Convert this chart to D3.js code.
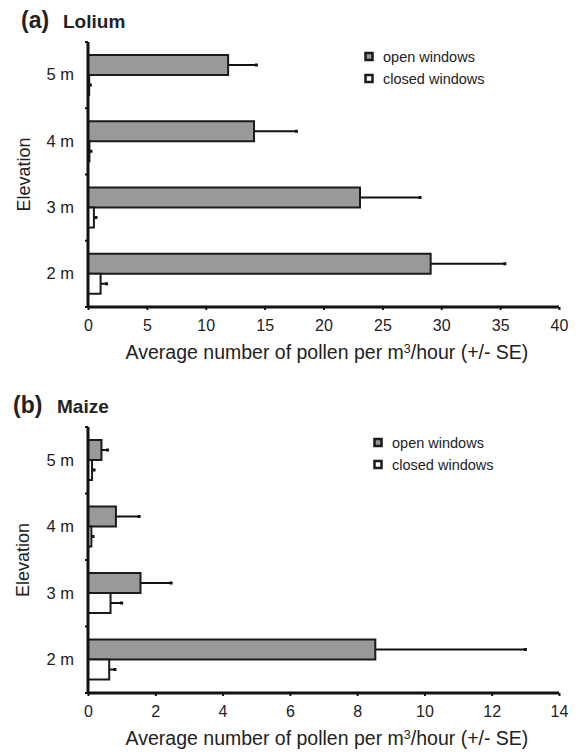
<!DOCTYPE html>
<html>
<head>
<meta charset="utf-8">
<script src="https://cdn.jsdelivr.net/npm/d3@7"></script>
<style>
  body { margin: 0; background: #fff; }
  text { font-family: "Liberation Sans", Arial, sans-serif; fill: #222; }
</style>
</head>
<body>
<div id="chart-container"></div>
<script>
// Data
const elevations = ["5 m", "4 m", "3 m", "2 m"];
const seriesNames = ["open windows", "closed windows"];

const loliumOpen = [11.9, 14.1, 23.1, 29.1];
const loliumOpenSE = [2.4, 3.6, 5.1, 6.3];
const loliumClosed = [0.1, 0.12, 0.5, 1.07];
const loliumClosedSE = [0.1, 0.13, 0.18, 0.5];
const loliumTicks = [0, 5, 10, 15, 20, 25, 30, 35, 40];

const maizeOpen = [0.4, 0.83, 1.56, 8.54];
const maizeOpenSE = [0.18, 0.69, 0.91, 4.46];
const maizeClosed = [0.12, 0.1, 0.67, 0.63];
const maizeClosedSE = [0.06, 0.05, 0.33, 0.17];
const maizeTicks = [0, 2, 4, 6, 8, 10, 12, 14];

const width = 583, height = 752;

const svg = d3.select("#chart-container")
  .append("svg")
  .attr("width", width)
  .attr("height", height);

function drawPanel(opt) {
  const g = svg.append("g");

  const x = d3.scaleLinear().domain([0, opt.max]).range([88, 559]);
  const y = d3.scaleBand().domain(elevations).range([opt.top, opt.bottom]);
  const sub = d3.scaleBand().domain(seriesNames).range([13, 53]);

  // panel title
  g.append("text").attr("x", opt.letterX).attr("y", opt.titleY)
    .style("font-size", "23px").style("font-weight", "bold")
    .text(opt.letter);
  g.append("text").attr("x", opt.nameX).attr("y", opt.titleY)
    .style("font-size", "19px").style("font-weight", "bold")
    .text(opt.name);

  const rows = elevations.map((e, i) => ({
    e: e,
    vals: [
      { s: seriesNames[0], v: opt.open[i], se: opt.openSE[i] },
      { s: seriesNames[1], v: opt.closed[i], se: opt.closedSE[i] }
    ]
  }));

  const grp = g.selectAll(".row").data(rows).enter().append("g")
    .attr("transform", d => `translate(0,${y(d.e)})`);

  const bars = grp.selectAll(".bar").data(d => d.vals).enter().append("g");

  // error bars
  bars.append("line")
    .attr("x1", d => x(d.v)).attr("x2", d => x(d.v + d.se))
    .attr("y1", d => sub(d.s) + sub.bandwidth() / 2)
    .attr("y2", d => sub(d.s) + sub.bandwidth() / 2)
    .attr("stroke", "#111").attr("stroke-width", 2);
  bars.append("rect")
    .attr("x", d => x(d.v + d.se) - 1.5)
    .attr("y", d => sub(d.s) + sub.bandwidth() / 2 - 1.5)
    .attr("width", 3).attr("height", 3).attr("fill", "#111");

  bars.append("rect")
    .attr("x", x(0))
    .attr("y", d => sub(d.s))
    .attr("width", d => x(d.v) - x(0))
    .attr("height", sub.bandwidth())
    .attr("fill", d => d.s === seriesNames[0] ? "#999" : "#fff")
    .attr("stroke", "#1a1a1a").attr("stroke-width", 2);

  // axes
  const xAxis = g.append("g").attr("transform", `translate(0,${opt.bottom})`)
    .call(d3.axisBottom(x).tickValues(opt.ticks).tickSize(3).tickPadding(10));
  xAxis.select(".domain").attr("stroke", "#111").attr("stroke-width", 3)
    .attr("d", `M${x(0)},0H${x(opt.max)}`);
  xAxis.selectAll(".tick line").attr("stroke", "#111").attr("stroke-width", 2);
  xAxis.selectAll(".tick text").style("font-size", "16px").style("fill", "#222");

  const yAxis = g.append("g").attr("transform", `translate(${x(0)},0)`)
    .call(d3.axisLeft(y).tickSize(0).tickPadding(14));
  yAxis.select(".domain").attr("stroke", "#111").attr("stroke-width", 3)
    .attr("d", `M0,${opt.top}V${opt.bottom}`);
  yAxis.selectAll(".tick text").style("font-size", "16.5px").style("fill", "#222");
  // boundary ticks between groups
  const bounds = elevations.map(e => y(e)).concat([opt.bottom]);
  g.selectAll(".bt").data(bounds).enter().append("line")
    .attr("x1", x(0) - 3).attr("x2", x(0))
    .attr("y1", d => d).attr("y2", d => d)
    .attr("stroke", "#111").attr("stroke-width", 2);

  g.append("text")
    .attr("transform", `translate(${opt.yTitleX},${(opt.top + opt.bottom) / 2}) rotate(-90)`)
    .attr("text-anchor", "middle").attr("dy", "0.35em")
    .style("font-size", "18px").text("Elevation");

  const xt = g.append("text").attr("x", 327).attr("y", opt.xTitleY)
    .attr("text-anchor", "middle").style("font-size", "19.5px");
  xt.append("tspan").text("Average number of pollen per m");
  xt.append("tspan").attr("dy", -6).style("font-size", "12.5px").text("3");
  xt.append("tspan").attr("dy", 6).text("/hour (+/- SE)");

  // legend
  const leg = g.selectAll(".leg").data(seriesNames).enter().append("g")
    .attr("transform", (d, i) => `translate(${opt.legX},${opt.legY + i * 22})`);
  leg.append("rect").attr("x", 1.5).attr("y", -4).attr("width", 7).attr("height", 7)
    .attr("fill", (d, i) => i === 0 ? "#999" : "#fff")
    .attr("stroke", "#1a1a1a").attr("stroke-width", 2.5);
  leg.append("text").attr("x", 19).attr("dy", "0.35em")
    .style("font-size", "14.5px").text(d => d);
}

drawPanel({
  letter: "(a)", name: "Lolium", letterX: 21, nameX: 63, titleY: 28,
  top: 42, bottom: 307, max: 40, ticks: loliumTicks,
  open: loliumOpen, openSE: loliumOpenSE, closed: loliumClosed, closedSE: loliumClosedSE,
  yTitleX: 24, xTitleY: 359, legX: 364, legY: 57
});

drawPanel({
  letter: "(b)", name: "Maize", letterX: 13, nameX: 57, titleY: 413,
  top: 427, bottom: 693, max: 14, ticks: maizeTicks,
  open: maizeOpen, openSE: maizeOpenSE, closed: maizeClosed, closedSE: maizeClosedSE,
  yTitleX: 23, xTitleY: 745, legX: 373, legY: 443
});
</script>
</body>
</html>
